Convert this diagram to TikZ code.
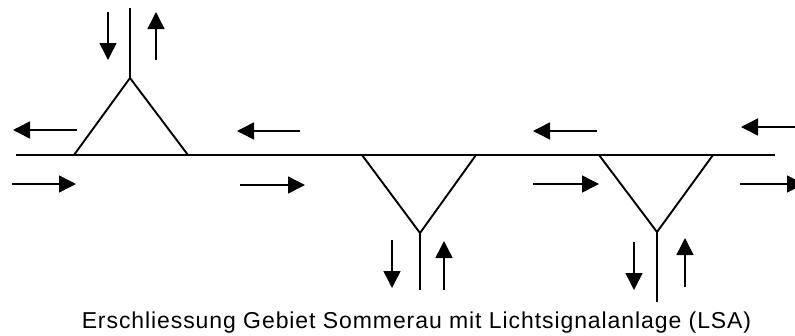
\documentclass[tikz,border=0pt]{standalone}
\usepackage{fontspec}
\setmainfont{Liberation Sans}
\usetikzlibrary{arrows.meta}
\begin{document}
\begin{tikzpicture}[x=1pt,y=-1pt,
  road/.style={line width=1.9pt, line cap=butt},
  flow/.style={line width=1.5pt, -{Triangle[length=17pt,width=17pt]}}]
\useasboundingbox (0,0) rectangle (795,335);
\clip (0,0) rectangle (795,335);

% main road
\coordinate (w) at (16,155);
\coordinate (e) at (775,155);
\draw[road] (w) -- (e);

% junction north (Y-shape above the road)
\coordinate (n1l) at (74,155);
\coordinate (n1r) at (188,155);
\coordinate (n1a) at (130,78);
\coordinate (n1t) at (130,8);
\draw[road, line join=miter] (n1l) -- (n1a) -- (n1r);
\draw[road] (n1a) -- (n1t);

% junction south 1
\coordinate (s1l) at (362,155);
\coordinate (s1r) at (476,155);
\coordinate (s1a) at (420,233);
\coordinate (s1b) at (420,290);
\draw[road, line join=miter] (s1l) -- (s1a) -- (s1r);
\draw[road] (s1a) -- (s1b);

% junction south 2
\coordinate (s2l) at (599,155);
\coordinate (s2r) at (713,155);
\coordinate (s2a) at (657,232);
\coordinate (s2b) at (657,302);
\draw[road, line join=miter] (s2l) -- (s2a) -- (s2r);
\draw[road] (s2a) -- (s2b);

% traffic directions on the side roads
\coordinate (a1s) at (108,12);  \coordinate (a1e) at (108,60);
\coordinate (a2s) at (156,60);  \coordinate (a2e) at (156,12);
\coordinate (a3s) at (392,240); \coordinate (a3e) at (392,288);
\coordinate (a4s) at (444,290); \coordinate (a4e) at (444,241);
\coordinate (a5s) at (634,242); \coordinate (a5e) at (634,290);
\coordinate (a6s) at (685,287); \coordinate (a6e) at (685,238);
\foreach \p in {1,...,6} \draw[flow] (a\p s) -- (a\p e);

% traffic directions on the main road
\coordinate (l1s) at (77,130);  \coordinate (l1e) at (13,130);
\coordinate (l2s) at (300,131); \coordinate (l2e) at (237,131);
\coordinate (l3s) at (597,131); \coordinate (l3e) at (533,131);
\coordinate (l4s) at (806,127); \coordinate (l4e) at (741,127);
\coordinate (r1s) at (12,184);  \coordinate (r1e) at (76,184);
\coordinate (r2s) at (240,185); \coordinate (r2e) at (305,185);
\coordinate (r3s) at (533,184); \coordinate (r3e) at (599,184);
\coordinate (r4s) at (740,184); \coordinate (r4e) at (804,184);
\foreach \p in {1,...,4} {
  \draw[flow] (l\p s) -- (l\p e);
  \draw[flow] (r\p s) -- (r\p e);
}

\node[anchor=base, inner sep=0pt,
      font=\fontsize{23}{27}\selectfont\addfontfeatures{LetterSpace=4}] (cap) at (416.5,328)
  {Erschliessung Gebiet Sommerau mit Lichtsignalanlage (LSA)};
\end{tikzpicture}
\end{document}
